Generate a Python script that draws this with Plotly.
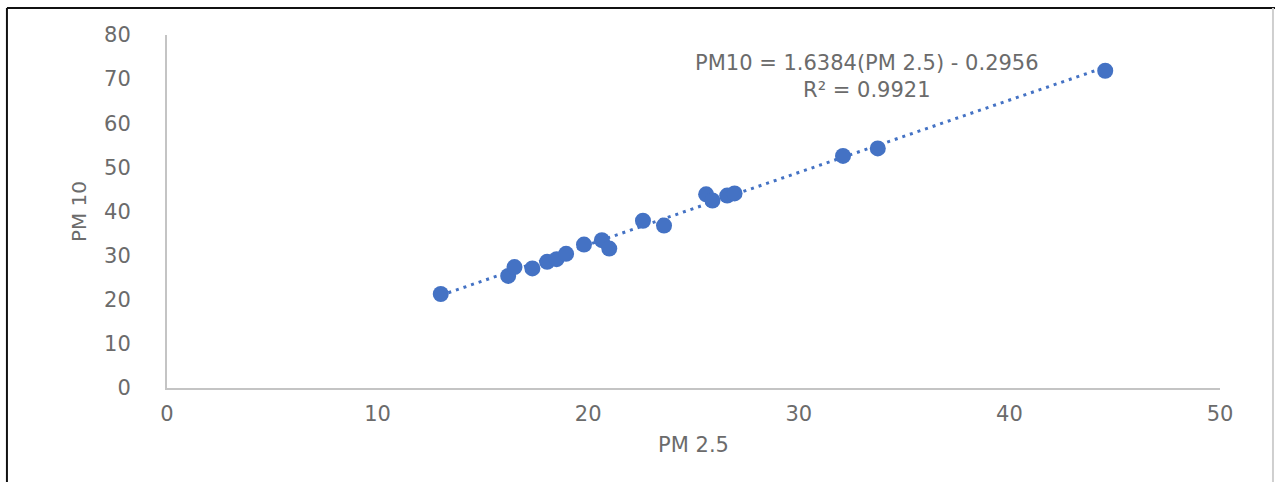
import plotly.graph_objects as go

# Paired daily concentrations (µg/m³)
pm25 = [13.0, 16.2, 16.5, 17.35, 18.05, 18.5, 18.95, 19.8, 20.65, 21.0,
        22.6, 23.6, 25.6, 25.9, 26.6, 26.95, 32.1, 33.75, 44.55]
pm10 = [21.3, 25.4, 27.4, 27.1, 28.6, 29.2, 30.4, 32.5, 33.5, 31.6,
        37.9, 36.8, 43.9, 42.5, 43.6, 44.1, 52.6, 54.3, 71.9]

# Linear trendline reported on the chart
slope = 1.6384
intercept = -0.2956
r_squared = 0.9921

x_ticks = [0, 10, 20, 30, 40, 50]
y_ticks = [0, 10, 20, 30, 40, 50, 60, 70, 80]

BLUE = "#4472C4"
TEXT = "#6b6b6b"
AXIS = "#c4c4c4"
FONT = "DejaVu Sans"

x_fit = [min(pm25), max(pm25)]
y_fit = [slope * x + intercept for x in x_fit]

fig = go.Figure()
fig.add_trace(go.Scatter(
    x=x_fit, y=y_fit, mode="lines",
    line=dict(color=BLUE, width=3, dash="3px,5px"),
    hoverinfo="skip", showlegend=False,
))
fig.add_trace(go.Scatter(
    x=pm25, y=pm10, mode="markers",
    marker=dict(color=BLUE, size=16, line=dict(width=0)),
    showlegend=False,
))

fig.add_annotation(
    x=0.665, y=0.96, xref="paper", yref="paper",
    text=f"PM10 = {slope}(PM 2.5) - {abs(intercept)}<br>R² = {r_squared}",
    showarrow=False, align="center",
    font=dict(family=FONT, size=21, color=TEXT),
)

# Frame around the figure
frame = [
    dict(x0=-0.152, x1=-0.152, y0=-0.27, y1=1.0765, color="#111111", width=2),
    dict(x0=-0.152, x1=1.06, y0=1.0765, y1=1.0765, color="#111111", width=2),
    dict(x0=1.0503, x1=1.0503, y0=-0.27, y1=1.0765, color="#cfcfcf", width=2),
]
for f in frame:
    fig.add_shape(type="line", xref="paper", yref="paper",
                  x0=f["x0"], x1=f["x1"], y0=f["y0"], y1=f["y1"],
                  line=dict(color=f["color"], width=f["width"]))

fig.update_layout(
    width=1275, height=482,
    margin=dict(l=167, r=55, t=35, b=94),
    paper_bgcolor="white", plot_bgcolor="white",
    font=dict(family=FONT, color=TEXT),
    xaxis=dict(
        range=[0, 50], tickvals=x_ticks, showgrid=False, zeroline=False,
        showline=True, linecolor=AXIS, linewidth=2, ticks="",
        tickfont=dict(family=FONT, size=21, color=TEXT),
        ticklabelstandoff=6,
        title=dict(text="PM 2.5", font=dict(family=FONT, size=21, color=TEXT),
                   standoff=12),
    ),
    yaxis=dict(
        range=[0, 80], tickvals=y_ticks, showgrid=False, zeroline=False,
        showline=True, linecolor=AXIS, linewidth=2, ticks="",
        tickfont=dict(family=FONT, size=21, color=TEXT),
        ticklabelstandoff=30,
        title=dict(text="PM 10", font=dict(family=FONT, size=20, color=TEXT),
                   standoff=12),
    ),
)

fig.write_html("out.html")
